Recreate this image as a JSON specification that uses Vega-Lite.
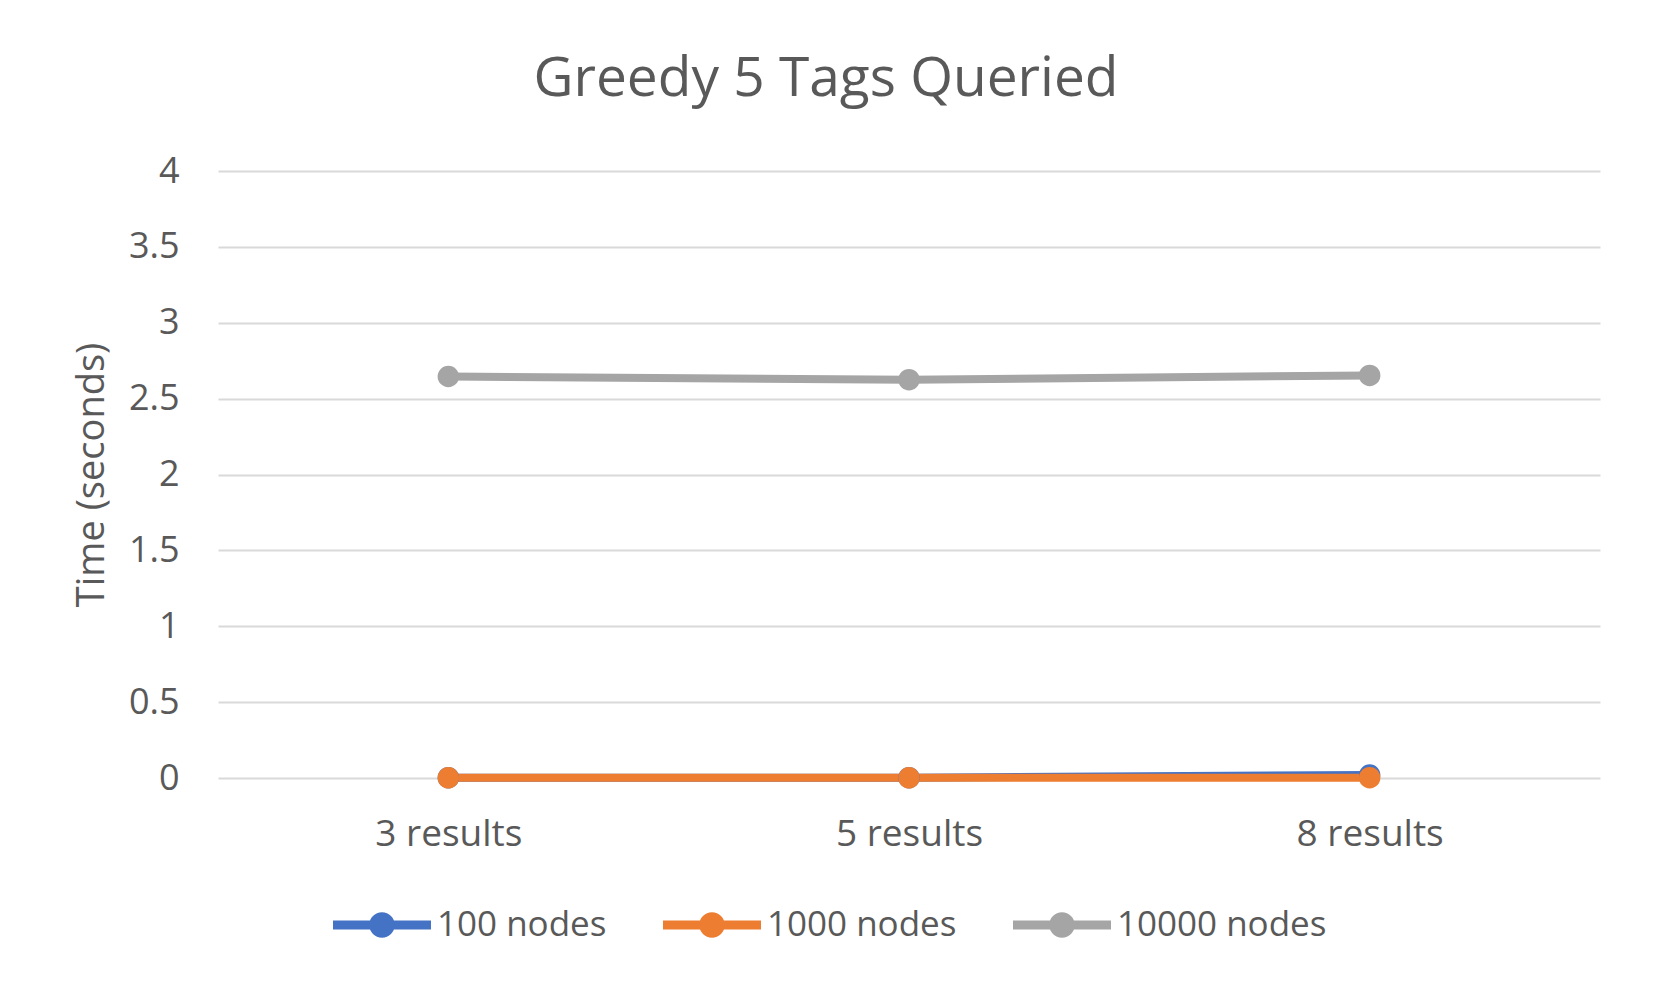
{
  "$schema": "https://vega.github.io/schema/vega-lite/v6.json",
  "autosize": {"type": "none"},
  "width": 1382,
  "height": 607,
  "padding": {"left": 218, "top": 171, "right": 53, "bottom": 213},
  "background": "white",
  "config": {"view": {"stroke": null}},
  "title": {
    "text": "Greedy 5 Tags Queried",
    "fontSize": 55,
    "font": "Open Sans",
    "fontWeight": "normal",
    "color": "#595959",
    "anchor": "middle",
    "dx": -83,
    "offset": 45
  },
  "data": {
    "values": [
      {"series": "100 nodes", "category": "3 results", "time": 0.002},
      {"series": "100 nodes", "category": "5 results", "time": 0.002},
      {"series": "100 nodes", "category": "8 results", "time": 0.02},
      {"series": "1000 nodes", "category": "3 results", "time": 0.001},
      {"series": "1000 nodes", "category": "5 results", "time": 0.001},
      {"series": "1000 nodes", "category": "8 results", "time": 0.002},
      {"series": "10000 nodes", "category": "3 results", "time": 2.646},
      {"series": "10000 nodes", "category": "5 results", "time": 2.625},
      {"series": "10000 nodes", "category": "8 results", "time": 2.653}
    ]
  },
  "encoding": {
    "x": {
      "field": "category",
      "type": "ordinal",
      "scale": {"type": "point", "padding": 0.5},
      "axis": {
        "title": null,
        "labelAngle": 0,
        "labelFontSize": 37,
        "labelFont": "Open Sans",
        "labelColor": "#595959",
        "labelPadding": 38,
        "ticks": false,
        "tickSize": 0,
        "domain": false,
        "grid": false
      }
    },
    "y": {
      "field": "time",
      "type": "quantitative",
      "scale": {"domain": [0, 4]},
      "axis": {
        "title": "Time (seconds)",
        "values": [0, 0.5, 1, 1.5, 2, 2.5, 3, 3.5, 4],
        "format": "~g",
        "titleFontSize": 38,
        "titleFont": "Open Sans",
        "titleFontWeight": "normal",
        "titleColor": "#595959",
        "titlePadding": 17,
        "labelFontSize": 36,
        "labelFont": "Open Sans",
        "labelColor": "#595959",
        "labelPadding": 39,
        "ticks": false,
        "tickSize": 0,
        "domain": false,
        "grid": true,
        "gridColor": "#d9d9d9",
        "gridWidth": 2
      }
    },
    "color": {
      "field": "series",
      "type": "nominal",
      "sort": ["100 nodes", "1000 nodes", "10000 nodes"],
      "scale": {
        "domain": ["100 nodes", "1000 nodes", "10000 nodes"],
        "range": ["#4472C4", "#ED7D31", "#A5A5A5"]
      },
      "legend": {
        "title": null,
        "orient": "none",
        "direction": "horizontal",
        "legendX": 115,
        "legendY": 705,
        "labelFontSize": 35,
        "labelFont": "Open Sans",
        "labelColor": "#595959",
        "labelOffset": 6,
        "labelLimit": 0,
        "columnPadding": 56,
        "symbolType": "M-1,-0.09H1V0.09H-1Z M-0.26,0A0.26,0.26 0 1,1 0.26,0A0.26,0.26 0 1,1 -0.26,0Z",
        "symbolSize": 9604,
        "symbolStrokeWidth": 0,
        "symbolOpacity": 1
      }
    }
  },
  "layer": [
    {
      "mark": {"type": "line", "strokeWidth": 8, "strokeCap": "round"}
    },
    {
      "mark": {"type": "point", "filled": true, "size": 460, "opacity": 1, "shape": "circle"}
    }
  ]
}
